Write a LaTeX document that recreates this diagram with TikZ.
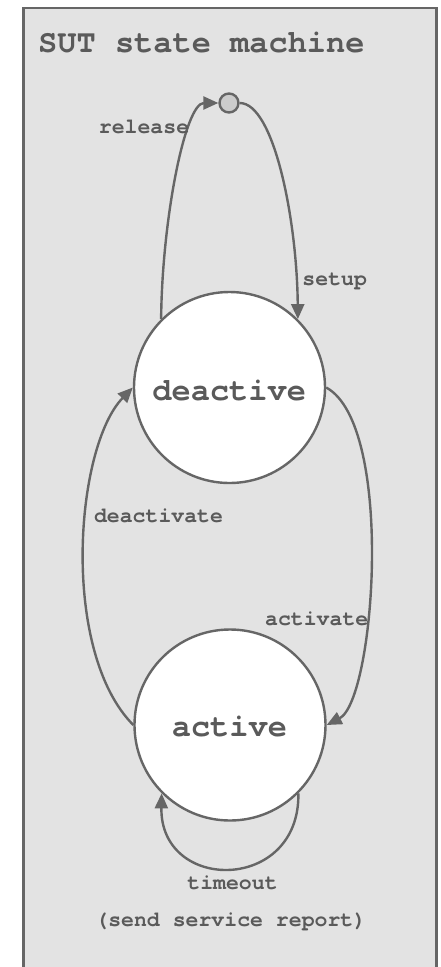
\documentclass[tikz,border=0pt]{standalone}
\usepackage{fontspec}
\newfontfamily\monofam{TeX Gyre Cursor}
\usetikzlibrary{arrows.meta}

\definecolor{inkgray}{HTML}{666666}
\definecolor{textgray}{HTML}{5A5A5A}
\definecolor{panelgray}{HTML}{E3E3E3}
\definecolor{dotgray}{HTML}{CCCCCC}

\tikzset{
  statenode/.style={circle, draw=inkgray, line width=2.4pt, fill=white,
    minimum size=191pt, inner sep=0pt, text=textgray,
    font=\monofam\bfseries\fontsize{32}{36}\selectfont},
  initnode/.style={circle, draw=inkgray, line width=2.4pt, fill=dotgray,
    minimum size=19pt, inner sep=0pt},
  edgeline/.style={draw=inkgray, line width=2.4pt,
    -{Triangle[length=15pt,width=13pt]}},
  edgelabel/.style={anchor=base, inner sep=0pt, text=textgray,
    font=\monofam\bfseries\fontsize{21.5}{24}\selectfont},
  titlelabel/.style={anchor=base west, inner sep=0pt, text=textgray,
    font=\monofam\bfseries\fontsize{32}{36}\selectfont},
}

\begin{document}
\begin{tikzpicture}[x=1pt, y=-1pt]
  \useasboundingbox (0,0) rectangle (440,967);
  \fill[white] (0,0) rectangle (440,967);

  % panel, open at the bottom edge
  \begin{scope}
    \clip (0,0) rectangle (440,967);
    \draw[draw=inkgray, fill=panelgray, line width=2.5pt] (23.5,8) rectangle (436.5,1000);
  \end{scope}

  \node[titlelabel] (title) at (38,52) {SUT state machine};

  % states
  \node[initnode] (init) at (229,103) {};
  \node[statenode] (deact) at (229.5,387.5) {};
  \node[statenode] (act) at (230,725) {};
  \node[edgelabel, font=\monofam\bfseries\fontsize{32}{36}\selectfont] (deactxt) at (229.2,400) {deactive};
  \node[edgelabel, font=\monofam\bfseries\fontsize{32}{36}\selectfont] (acttxt) at (229.4,736.5) {active};

  % transitions
  \draw[edgeline] (deact.135) .. controls (162,220) and (185,103) .. (init.west);
  \draw[edgeline] (init.east) .. controls (274,103) and (297,220) .. (deact.45);
  \draw[edgeline] (deact.0) .. controls (395,425) and (375,700) .. (act.0);
  \draw[edgeline] (act.180) .. controls (60,651) and (75,447) .. (deact.180);
  \draw[edgeline] (act.-45) .. controls (300,893) and (160,893) .. (act.-135);

  % transition labels
  \node[edgelabel] (lrelease) at (144,133) {release};
  \node[edgelabel] (lsetup) at (334.7,285) {setup};
  \node[edgelabel] (lactivate) at (316.7,625) {activate};
  \node[edgelabel] (ldeactivate) at (158.5,522.5) {deactivate};
  \node[edgelabel] (ltimeout) at (232.5,889) {timeout};
  \node[edgelabel] (lreport) at (230.8,926) {(send service report)};
\end{tikzpicture}
\end{document}
